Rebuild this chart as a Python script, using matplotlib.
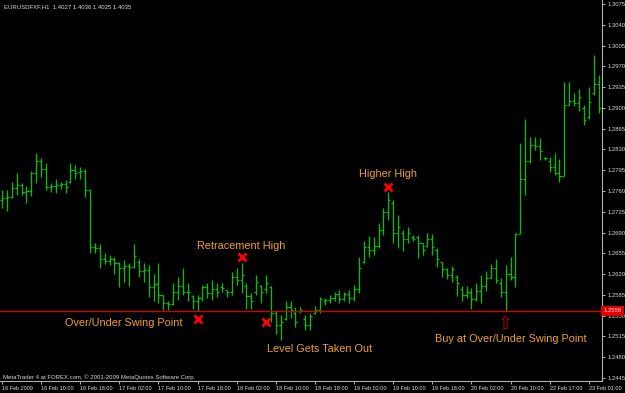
import matplotlib
matplotlib.use("Agg")
import matplotlib.pyplot as plt
import numpy as np

# EURUSD H1 bars (oldest first)
highs = [1.2762, 1.2762, 1.2776, 1.2790, 1.2774, 1.2769, 1.2794, 1.2824, 1.2815, 1.2807,
         1.2773, 1.2781, 1.2776, 1.2779, 1.2807, 1.2804, 1.2801, 1.2797, 1.2763, 1.2672,
         1.2671, 1.2655, 1.2652, 1.2649, 1.2641, 1.2644, 1.2639, 1.2671, 1.2645, 1.2638,
         1.2635, 1.2621, 1.2638, 1.2585, 1.2574, 1.2605, 1.2616, 1.2630, 1.2605, 1.2585,
         1.2585, 1.2602, 1.2605, 1.2610, 1.2605, 1.2605, 1.2593, 1.2624, 1.2630, 1.2638,
         1.2605, 1.2588, 1.2619, 1.2602, 1.2619, 1.2600, 1.2560, 1.2551, 1.2574, 1.2574,
         1.2565, 1.2565, 1.2551, 1.2554, 1.2566, 1.2582, 1.2579, 1.2585, 1.2590, 1.2593,
         1.2590, 1.2593, 1.2602, 1.2649, 1.2675, 1.2684, 1.2683, 1.2706, 1.2732, 1.2759,
         1.2745, 1.2720, 1.2694, 1.2700, 1.2686, 1.2686, 1.2673, 1.2690, 1.2688, 1.2664,
         1.2641, 1.2630, 1.2634, 1.2619, 1.2600, 1.2600, 1.2596, 1.2605, 1.2619, 1.2625,
         1.2637, 1.2646, 1.2613, 1.2635, 1.2649, 1.2690, 1.2841, 1.2881, 1.2851, 1.2851,
         1.2849, 1.2818, 1.2818, 1.2824, 1.2814, 1.2944, 1.2944, 1.2925, 1.2932, 1.2905,
         1.2936, 1.2989, 1.2955]
lows = [1.2731, 1.2727, 1.2749, 1.2753, 1.2753, 1.2739, 1.2752, 1.2774, 1.2783, 1.2762,
        1.2759, 1.2757, 1.2763, 1.2756, 1.2773, 1.2781, 1.2781, 1.2750, 1.2655, 1.2656,
        1.2630, 1.2637, 1.2635, 1.2621, 1.2599, 1.2606, 1.2600, 1.2631, 1.2615, 1.2606,
        1.2582, 1.2575, 1.2572, 1.2560, 1.2560, 1.2568, 1.2576, 1.2585, 1.2574, 1.2562,
        1.2558, 1.2574, 1.2579, 1.2576, 1.2582, 1.2590, 1.2582, 1.2585, 1.2602, 1.2588,
        1.2561, 1.2561, 1.2585, 1.2571, 1.2588, 1.2540, 1.2520, 1.2509, 1.2543, 1.2546,
        1.2531, 1.2554, 1.2526, 1.2526, 1.2553, 1.2554, 1.2568, 1.2571, 1.2574, 1.2571,
        1.2574, 1.2571, 1.2574, 1.2588, 1.2638, 1.2649, 1.2653, 1.2664, 1.2686, 1.2711,
        1.2672, 1.2664, 1.2659, 1.2672, 1.2675, 1.2647, 1.2652, 1.2665, 1.2652, 1.2632,
        1.2615, 1.2611, 1.2607, 1.2583, 1.2574, 1.2579, 1.2561, 1.2574, 1.2572, 1.2592,
        1.2613, 1.2605, 1.2582, 1.2558, 1.2610, 1.2599, 1.2688, 1.2753, 1.2807, 1.2829,
        1.2813, 1.2813, 1.2792, 1.2787, 1.2776, 1.2785, 1.2905, 1.2903, 1.2895, 1.2872,
        1.2882, 1.2922, 1.2892]
opens = [1.2745, 1.2748, 1.2750, 1.2765, 1.2770, 1.2758, 1.2760, 1.2790, 1.2810, 1.2797,
         1.2766, 1.2769, 1.2770, 1.2772, 1.2775, 1.2795, 1.2792, 1.2794, 1.2762, 1.2665,
         1.2664, 1.2645, 1.2642, 1.2645, 1.2638, 1.2630, 1.2634, 1.2632, 1.2640, 1.2625,
         1.2627, 1.2598, 1.2604, 1.2585, 1.2572, 1.2569, 1.2590, 1.2600, 1.2590, 1.2583,
         1.2574, 1.2580, 1.2598, 1.2588, 1.2595, 1.2598, 1.2593, 1.2590, 1.2615, 1.2610,
         1.2600, 1.2583, 1.2590, 1.2600, 1.2595, 1.2598, 1.2555, 1.2535, 1.2545, 1.2565,
         1.2555, 1.2558, 1.2545, 1.2535, 1.2555, 1.2560, 1.2575, 1.2577, 1.2580, 1.2586,
         1.2578, 1.2586, 1.2580, 1.2595, 1.2640, 1.2665, 1.2660, 1.2668, 1.2695, 1.2725,
         1.2740, 1.2690, 1.2690, 1.2680, 1.2682, 1.2682, 1.2672, 1.2668, 1.2680, 1.2660,
         1.2640, 1.2628, 1.2618, 1.2615, 1.2595, 1.2585, 1.2590, 1.2578, 1.2592, 1.2600,
         1.2614, 1.2630, 1.2605, 1.2590, 1.2620, 1.2615, 1.2688, 1.2780, 1.2810, 1.2838,
         1.2835, 1.2816, 1.2810, 1.2800, 1.2790, 1.2785, 1.2905, 1.2912, 1.2908, 1.2900,
         1.2885, 1.2925, 1.2940]
closes = [1.2748, 1.2750, 1.2765, 1.2770, 1.2758, 1.2760, 1.2790, 1.2810, 1.2797, 1.2766,
          1.2769, 1.2770, 1.2772, 1.2766, 1.2795, 1.2790, 1.2794, 1.2762, 1.2665, 1.2664,
          1.2645, 1.2642, 1.2645, 1.2638, 1.2630, 1.2634, 1.2632, 1.2650, 1.2625, 1.2627,
          1.2598, 1.2604, 1.2585, 1.2572, 1.2569, 1.2590, 1.2600, 1.2590, 1.2590, 1.2574,
          1.2580, 1.2598, 1.2588, 1.2595, 1.2590, 1.2597, 1.2590, 1.2615, 1.2610, 1.2618,
          1.2583, 1.2575, 1.2607, 1.2590, 1.2605, 1.2555, 1.2535, 1.2540, 1.2565, 1.2560,
          1.2540, 1.2560, 1.2535, 1.2550, 1.2560, 1.2578, 1.2577, 1.2580, 1.2586, 1.2578,
          1.2586, 1.2580, 1.2595, 1.2630, 1.2665, 1.2660, 1.2668, 1.2695, 1.2725, 1.2745,
          1.2690, 1.2700, 1.2680, 1.2690, 1.2680, 1.2672, 1.2660, 1.2680, 1.2665, 1.2645,
          1.2628, 1.2618, 1.2628, 1.2605, 1.2585, 1.2590, 1.2578, 1.2592, 1.2600, 1.2614,
          1.2630, 1.2610, 1.2590, 1.2620, 1.2615, 1.2688, 1.2780, 1.2810, 1.2838, 1.2835,
          1.2828, 1.2816, 1.2800, 1.2790, 1.2785, 1.2905, 1.2912, 1.2908, 1.2918, 1.2880,
          1.2910, 1.2940, 1.2900]

time_labels = ["16 Feb 2009", "16 Feb 10:00", "16 Feb 18:00", "17 Feb 02:00",
               "17 Feb 10:00", "17 Feb 18:00", "18 Feb 02:00", "18 Feb 10:00",
               "18 Feb 18:00", "19 Feb 02:00", "19 Feb 10:00", "19 Feb 18:00",
               "20 Feb 02:00", "20 Feb 10:00", "22 Feb 17:00", "23 Feb 01:00"]
price_ticks = [1.2445, 1.2480, 1.2515, 1.2550, 1.2585, 1.2620, 1.2655, 1.2690,
               1.2725, 1.2760, 1.2795, 1.2830, 1.2865, 1.2900, 1.2935, 1.2970,
               1.3005, 1.3040, 1.3075]
level = 1.2558  # over/under swing point line

BG = "black"
GREEN = "#00c400"
FG = "#d8d8d8"
ORANGE = "#f0a030"

fig = plt.figure(figsize=(6.25, 3.93), dpi=100, facecolor=BG)
ax = fig.add_axes([0, 12 / 393, 601.5 / 625, 381 / 393], facecolor=BG)

idx = np.arange(len(highs))
ax.vlines(idx, lows, highs, colors=GREEN, lw=0.9)
ax.hlines(opens, idx - 0.42, idx, colors=GREEN, lw=0.9)
ax.hlines(closes, idx, idx + 0.42, colors=GREEN, lw=0.9)

ax.axhline(level, color="#d00000", lw=1.0)

ax.set_xlim(-0.41, 122.6)
ax.set_ylim(1.2440, 1.30817)

# axes frame like MT4
for side in ["top", "left"]:
    ax.spines[side].set_visible(False)
for side in ["right", "bottom"]:
    ax.spines[side].set_color("#b0b0b0")
    ax.spines[side].set_linewidth(0.8)

ax.yaxis.tick_right()
ax.set_yticks(price_ticks)
ax.set_yticklabels(["%.4f" % p for p in price_ticks])
ax.set_xticks(np.arange(0, 8 * len(time_labels), 8))
ax.set_xticklabels(time_labels)
ax.tick_params(axis="y", colors="#b0b0b0", labelcolor=FG, length=2.5, width=0.7,
               labelsize=4.2, pad=2)
ax.tick_params(axis="x", colors="#b0b0b0", labelcolor=FG, length=2.5, width=0.7,
               labelsize=4.0, pad=1)
for lab in ax.get_yticklabels():
    lab.set_family("Liberation Sans")
for lab in ax.get_xticklabels():
    lab.set_family("Liberation Sans")
    lab.set_horizontalalignment("left")

# level tag on the price scale
ax.text(1.003, level, "%.4f" % level, transform=ax.get_yaxis_transform(),
        ha="left", va="center", fontsize=4.2, family="Liberation Sans", color="#ffe0e0",
        bbox=dict(boxstyle="square,pad=0.4", fc="#e00000", ec="none"), clip_on=False)

# header and footer text
fig.text(4 / 625, 1 - 7 / 393, "EURUSDFXF,H1  1.4027 1.4036 1.4025 1.4035",
         ha="left", va="center", fontsize=4.3, family="Liberation Sans", color=FG)
ax.text(0.005, 4 / 381, "MetaTrader 4 at FOREX.com, \u00a9 2001-2009 MetaQuotes Software Corp.",
        transform=ax.transAxes, ha="left", va="center", fontsize=4.3,
        family="Liberation Sans", color=FG)

# swing markers
mk = dict(ls="none", marker="x", ms=5.5, mew=2, color="red")
off = 1 / 5937  # one screen pixel in price units
ax.plot([49], [highs[49] + 6 * off], **mk)
ax.plot([40], [lows[40] - 8 * off], **mk)
ax.plot([54], [level - 11 * off], **mk)
ax.plot([79], [highs[79] + 5 * off], **mk)
ax.text(103, lows[103] - 13 * off, "\u21e7", ha="center", va="center",
        fontsize=13, color="#c00000", family="DejaVu Sans")

tk = dict(fontsize=7.8, family="Liberation Sans", color=ORANGE, va="center")
ax.text(49, highs[49] + 17 * off, "Retracement High", ha="center", **tk)
ax.text(79, highs[79] + 18 * off, "Higher High", ha="center", **tk)
ax.text(37, lows[40] - 12 * off, "Over/Under Swing Point", ha="right", **tk)
ax.text(65, level - 38 * off, "Level Gets Taken Out", ha="center", **tk)
ax.text(104, lows[103] - 28 * off, "Buy at Over/Under Swing Point", ha="center", **tk)

fig.savefig("out.png", dpi=100, facecolor=BG)
